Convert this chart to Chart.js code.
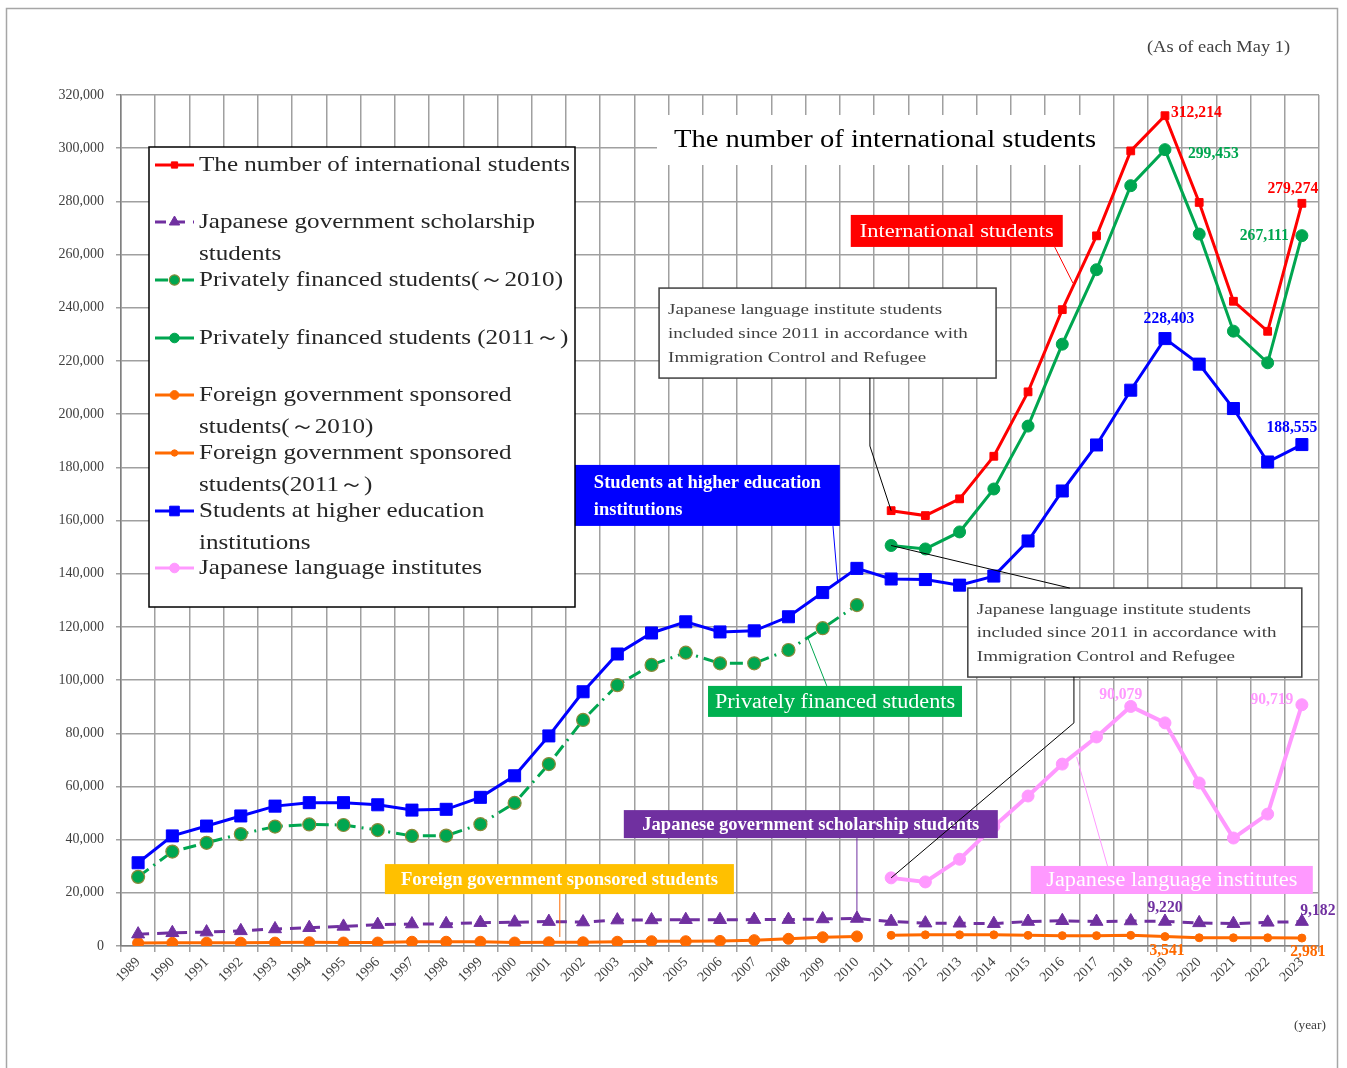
<!DOCTYPE html>
<html>
<head>
<meta charset="utf-8">
<script src="https://cdn.jsdelivr.net/npm/chart.js@4.4.1/dist/chart.umd.min.js"></script>
<style>
  html, body { margin: 0; padding: 0; background: #fff; }
  #wrap { position: relative; width: 1347px; height: 1068px; }
</style>
</head>
<body>
<div id="wrap"><canvas id="chart" width="1347" height="1068"></canvas></div>
<script>
// categories
const years = ['1989','1990','1991','1992','1993','1994','1995','1996','1997','1998','1999','2000',
  '2001','2002','2003','2004','2005','2006','2007','2008','2009','2010',
  '2011','2012','2013','2014','2015','2016','2017','2018','2019','2020','2021','2022','2023'];

// series
const higherEdu = [31300, 41400, 45100, 48900, 52600, 53900, 53900, 53100, 51100, 51400, 55900, 64000,
  79000, 95600, 109800, 117700, 121900, 118100, 118500, 123800, 132900, 142000,
  138000, 137800, 135700, 139100, 152300, 171100, 188400, 209000, 228403, 218800, 202100, 182000, 188555];
const privateTo2010 = [26000, 35500, 38800, 42100, 44900, 45700, 45500, 43600, 41400, 41500, 45800, 53800,
  68400, 85000, 98100, 105700, 110300, 106300, 106300, 111300, 119500, 128200];
const govScholarship = [4465, 4961, 5219, 5699, 6408, 6880, 7371, 8051, 8250, 8323, 8774, 8930,
  9173, 9009, 9746, 9804, 9891, 9869, 9923, 9923, 10168, 10349,
  9200, 8600, 8550, 8400, 9200, 9500, 9200, 9400, 9220, 8700, 8400, 8900, 9182];
const foreignGovTo2010 = [1130, 1200, 1250, 1230, 1280, 1400, 1300, 1300, 1600, 1600, 1600, 1300,
  1400, 1400, 1600, 1800, 1800, 1900, 2200, 2700, 3300, 3600];
// from 2011 on
const intlTotal2011 = [163697, 161848, 168145, 184155, 208379, 239287, 267042, 298980, 312214, 279597, 242444, 231146, 279274];
const private2011 = [150600, 149300, 155700, 171850, 195500, 226300, 254300, 285900, 299453, 267700, 231200, 219300, 267111];
const foreignGov2011 = [4000, 4200, 4200, 4200, 4000, 3900, 3900, 4000, 3541, 3100, 3100, 3100, 2981];
const langInst2011 = [25622, 24092, 32626, 44970, 56400, 68400, 78600, 90079, 83900, 61300, 40600, 49600, 90719];

const yTicks = { min: 0, max: 320000, step: 20000 };

// place a 2011~ series on the full year axis
function from2011(vals) {
  const out = years.map(() => null);
  vals.forEach((v, k) => { out[years.indexOf('2011') + k] = v; });
  return out;
}
const intlTotal = from2011(intlTotal2011);
const privateFrom2011 = from2011(private2011);
const foreignGovFrom2011 = from2011(foreignGov2011);
const langInst = from2011(langInst2011);

const RED = '#ff0000', GREEN = '#00a650', BLUE = '#0000ff', PURPLE = '#7030a0',
      ORANGE = '#ff6a00', PINK = '#ff99ff', YELLOW = '#ffc000';
const SERIF = '"Liberation Serif", "DejaVu Serif", serif';

const datasets = [
  { key: 'red', data: intlTotal, borderColor: RED, backgroundColor: RED, borderWidth: 3,
    pointStyle: 'rect', pointRadius: 5.5, pointBorderWidth: 1 },
  { key: 'purple', data: govScholarship, borderColor: PURPLE, backgroundColor: PURPLE, borderWidth: 3,
    borderDash: [11, 8], pointStyle: 'triangle', pointRadius: 7.5, pointBorderWidth: 1 },
  { key: 'greenOld', data: privateTo2010, borderColor: GREEN, backgroundColor: GREEN, borderWidth: 3,
    borderDash: [13, 6, 2, 6], pointStyle: 'circle', pointRadius: 6.5, pointBorderWidth: 1.2,
    pointBorderColor: '#8c8a3a' },
  { key: 'green', data: privateFrom2011, borderColor: GREEN, backgroundColor: GREEN, borderWidth: 3,
    pointStyle: 'circle', pointRadius: 6, pointBorderWidth: 1 },
  { key: 'orangeOld', data: foreignGovTo2010, borderColor: ORANGE, backgroundColor: ORANGE, borderWidth: 3,
    pointStyle: 'circle', pointRadius: 5.5, pointBorderWidth: 1 },
  { key: 'orange', data: foreignGovFrom2011, borderColor: ORANGE, backgroundColor: ORANGE, borderWidth: 3,
    pointStyle: 'circle', pointRadius: 4, pointBorderWidth: 1 },
  { key: 'blue', data: higherEdu, borderColor: BLUE, backgroundColor: BLUE, borderWidth: 3,
    pointStyle: 'rect', pointRadius: 8.5, pointBorderWidth: 1 },
  { key: 'pink', data: langInst, borderColor: PINK, backgroundColor: PINK, borderWidth: 4,
    pointStyle: 'circle', pointRadius: 6, pointBorderWidth: 1 }
];
datasets.forEach(d => { if (!d.pointBorderColor) d.pointBorderColor = d.borderColor; d.pointBackgroundColor = d.backgroundColor; d.fill = false; d.tension = 0; });

const legendItems = [
  { key: 'red', lines: ['The number of international students'], y: 165 },
  { key: 'purple', lines: ['Japanese government scholarship', 'students'], y: 222 },
  { key: 'greenOld', lines: ['Privately financed students(～2010)'], y: 280 },
  { key: 'green', lines: ['Privately financed students (2011～)'], y: 338 },
  { key: 'orangeOld', lines: ['Foreign government sponsored', 'students(～2010)'], y: 395 },
  { key: 'orange', lines: ['Foreign government sponsored', 'students(2011～)'], y: 453 },
  { key: 'blue', lines: ['Students at higher education', 'institutions'], y: 511 },
  { key: 'pink', lines: ['Japanese language institutes'], y: 568 }
];

// value labels: dataset, year, text, offsets
const valueLabels = [
  { key: 'red', year: '2019', text: '312,214', dx: 6, dy: -3, align: 'left' },
  { key: 'green', year: '2019', text: '299,453', dx: 23, dy: 4, align: 'left' },
  { key: 'red', year: '2023', text: '279,274', dx: -9, dy: -15, align: 'center' },
  { key: 'green', year: '2023', text: '267,111', dx: -13, dy: 0, align: 'right' },
  { key: 'blue', year: '2019', text: '228,403', dx: 4, dy: -20, align: 'center' },
  { key: 'blue', year: '2023', text: '188,555', dx: -10, dy: -17, align: 'center' },
  { key: 'pink', year: '2018', text: '90,079', dx: -10, dy: -12, align: 'center' },
  { key: 'pink', year: '2023', text: '90,719', dx: -30, dy: -5, align: 'center' },
  { key: 'purple', year: '2019', text: '9,220', dx: 0, dy: -14, align: 'center' },
  { key: 'purple', year: '2023', text: '9,182', dx: 16, dy: -11, align: 'center' },
  { key: 'orange', year: '2019', text: '3,541', dx: 2, dy: 14, align: 'center' },
  { key: 'orange', year: '2023', text: '2,981', dx: 6, dy: 14, align: 'center' }
];

const NOTE = ['Japanese language institute students', 'included since 2011 in accordance with', 'Immigration Control and Refugee'];

// callout boxes: anchor in (category index, value), size in px; leader paths in the same units
const callouts = [
  { lines: ['International students'], at: [20.82, 274900], w: 212, h: 32, fill: RED, color: '#fff',
    font: 19, bold: false, textW: 194, center: true, lineColor: RED, lineW: 1,
    path: [[26.78, 262800], [27.31, 249300]] },
  { lines: NOTE, at: [15.22, 247400], w: 337, h: 90, fill: '#fff', border: '#404040', color: '#404040',
    font: 15.5, bold: false, textW: 274, padX: 9, lineY: [22, 46, 70], lineColor: '#000', lineW: 1,
    path: [[21.38, 213600], [21.38, 188000], [22, intlTotal[22]]] },
  { lines: ['Students at higher education', 'institutions'], at: [12.73, 180900], w: 266, h: 61, fill: BLUE,
    color: '#fff', font: 18, bold: true, textW: 227, padX: 20, lineY: [18, 45], lineColor: BLUE, lineW: 1,
    path: [[20.3, 157900], [20.44, 136500]] },
  { lines: NOTE, at: [24.24, 134600], w: 334, h: 89, fill: '#fff', border: '#404040', color: '#404040',
    font: 15.5, bold: false, textW: 274, padX: 9, lineY: [22, 45, 69], lineColor: '#000', lineW: 1,
    path: [[22, privateFrom2011[22]], [27.22, 134600]],
    path2: [[27.34, 101200], [27.34, 83900], [22, langInst[22]]] },
  { lines: ['Privately financed students'], at: [16.65, 97800], w: 254, h: 31, fill: '#00b050', color: '#fff',
    font: 20, bold: false, textW: 240, center: true, lineColor: GREEN, lineW: 1,
    path: [[20.12, 97800], [19.57, 115800]] },
  { lines: ['Japanese government scholarship students'], at: [14.19, 51100], w: 374, h: 28, fill: PURPLE,
    color: '#fff', font: 18, bold: true, textW: 337, center: true, lineColor: PURPLE, lineW: 1,
    path: [[21, 40600], [21, 11700]] },
  { lines: ['Foreign government sponsored students'], at: [7.21, 30800], w: 349, h: 30, fill: YELLOW,
    color: '#fff', font: 18, bold: true, textW: 317, center: true, lineColor: ORANGE, lineW: 1,
    path: [[12.32, 19550], [12.32, 3400]] },
  { lines: ['Japanese language institutes'], at: [26.08, 30100], w: 282, h: 28, fill: PINK,
    color: '#fff', font: 20, bold: false, textW: 251, center: true, lineColor: PINK, lineW: 1,
    path: [[28.33, 29700], [27.42, 71100]] }
];

function fitText(ctx, str, x, y, width, align) {
  const k = width / ctx.measureText(str).width;
  ctx.save();
  ctx.translate(x, y);
  ctx.scale(k, 1);
  ctx.textAlign = align;
  ctx.fillText(str, 0, 0);
  ctx.restore();
}

const decorations = {
  id: 'decorations',
  afterDatasetsDraw(chart) {
    const ctx = chart.ctx;
    const xs = chart.scales.x, ys = chart.scales.y;
    const P = ([i, v]) => [xs.getPixelForValue(i), ys.getPixelForValue(v)];
    const byKey = {};
    chart.data.datasets.forEach((d, n) => { byKey[d.key] = n; });

    ctx.save();
    // title box
    ctx.fillStyle = '#fff';
    ctx.fillRect(657, 115, 456, 50);
    ctx.fillStyle = '#000';
    ctx.font = '25px ' + SERIF;
    ctx.textBaseline = 'middle';
    fitText(ctx, 'The number of international students', 885, 140, 422, 'center');

    // callout boxes
    callouts.forEach(c => {
      const [x0, y0] = P(c.at);
      ctx.fillStyle = c.fill;
      ctx.fillRect(x0, y0, c.w, c.h);
      if (c.border) {
        ctx.strokeStyle = c.border;
        ctx.lineWidth = 1.5;
        ctx.strokeRect(x0, y0, c.w, c.h);
      }
      ctx.fillStyle = c.color;
      ctx.font = (c.bold ? 'bold ' : '') + c.font + 'px ' + SERIF;
      ctx.textBaseline = 'middle';
      if (c.center) {
        fitText(ctx, c.lines[0], x0 + c.w / 2, y0 + c.h / 2 + 1, c.textW, 'center');
      } else {
        const k = c.textW / ctx.measureText(c.lines[0]).width;
        c.lines.forEach((s, n) => {
          ctx.save();
          ctx.translate(x0 + c.padX, y0 + c.lineY[n]);
          ctx.scale(k, 1);
          ctx.textAlign = 'left';
          ctx.fillText(s, 0, 0);
          ctx.restore();
        });
      }
    });
    // leader lines
    callouts.forEach(c => {
      [c.path, c.path2].forEach(path => {
        if (!path) return;
        ctx.strokeStyle = c.lineColor;
        ctx.lineWidth = c.lineW;
        ctx.beginPath();
        path.forEach((pt, n) => {
          const [x, y] = P(pt);
          if (n === 0) ctx.moveTo(x, y); else ctx.lineTo(x, y);
        });
        ctx.stroke();
      });
    });

    // value labels
    ctx.font = 'bold 17px ' + SERIF;
    ctx.textBaseline = 'middle';
    valueLabels.forEach(l => {
      const ds = chart.data.datasets[byKey[l.key]];
      const pt = chart.getDatasetMeta(byKey[l.key]).data[years.indexOf(l.year)];
      ctx.fillStyle = ds.borderColor;
      const w = ctx.measureText(l.text).width * 0.92;
      fitText(ctx, l.text, pt.x + l.dx, pt.y + l.dy, w, l.align);
    });

    // legend box
    ctx.fillStyle = '#fff';
    ctx.fillRect(149, 147, 426, 460);
    ctx.strokeStyle = '#000';
    ctx.lineWidth = 1.5;
    ctx.strokeRect(149, 147, 426, 460);
    ctx.font = '21px ' + SERIF;
    const k = 371 / ctx.measureText(legendItems[0].lines[0]).width;
    legendItems.forEach(item => {
      const ds = chart.data.datasets[byKey[item.key]];
      ctx.save();
      ctx.strokeStyle = ds.borderColor;
      ctx.lineWidth = 3;
      ctx.setLineDash(ds.borderDash || []);
      ctx.beginPath();
      ctx.moveTo(155, item.y);
      ctx.lineTo(194, item.y);
      ctx.stroke();
      ctx.setLineDash([]);
      ctx.fillStyle = ds.pointBackgroundColor;
      ctx.strokeStyle = ds.pointBorderColor;
      ctx.lineWidth = ds.pointBorderWidth;
      Chart.helpers.drawPoint(ctx, { pointStyle: ds.pointStyle, radius: ds.pointRadius * 0.8, rotation: 0, borderWidth: ds.pointBorderWidth }, 174.5, item.y);
      ctx.restore();
      ctx.fillStyle = '#262626';
      ctx.textBaseline = 'middle';
      item.lines.forEach((s, n) => {
        ctx.save();
        ctx.translate(199, item.y + n * 32);
        ctx.scale(k, 1);
        ctx.textAlign = 'left';
        ctx.fillText(s, 0, 0);
        ctx.restore();
      });
    });

    // notes
    ctx.fillStyle = '#404040';
    ctx.font = '16px ' + SERIF;
    fitText(ctx, '(As of each May 1)', 1290, 48, 143, 'right');
    ctx.font = '12px ' + SERIF;
    fitText(ctx, '(year)', 1310, 1026, 32, 'center');

    // outer frame
    ctx.strokeStyle = '#a6a6a6';
    ctx.lineWidth = 1.5;
    ctx.strokeRect(6.5, 8.5, 1331, 1080);
    ctx.restore();
  }
};

new Chart(document.getElementById('chart'), {
  type: 'line',
  data: { labels: years, datasets: datasets },
  options: {
    responsive: false,
    animation: false,
    layout: { padding: { top: 95, right: 28, left: 0, bottom: 0 } },
    plugins: { legend: { display: false }, tooltip: { enabled: false } },
    scales: {
      x: {
        offset: true,
        grid: { offset: true, color: '#a0a0a0', lineWidth: 1.5, tickLength: 6 },
        border: { color: '#808080', width: 1.5 },
        ticks: { autoSkip: false, minRotation: 45, maxRotation: 45, color: '#404040',
          font: { family: SERIF, size: 14 }, padding: 2 },
        afterFit: s => { s.height = 122; }
      },
      y: {
        min: yTicks.min, max: yTicks.max,
        grid: { color: '#a0a0a0', lineWidth: 1.5, tickLength: 5 },
        border: { color: '#808080', width: 1.5 },
        ticks: { stepSize: yTicks.step, color: '#404040', padding: 12,
          font: { family: SERIF, size: 14 },
          callback: v => v.toLocaleString('en-US') },
        afterFit: s => { s.width = 121; }
      }
    }
  },
  plugins: [decorations]
});
</script>
</body>
</html>
